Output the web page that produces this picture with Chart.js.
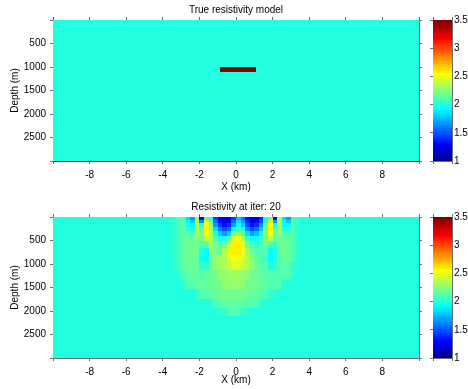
<!DOCTYPE html>
<html>
<head>
<meta charset="utf-8">
<script src="https://cdn.jsdelivr.net/npm/chart.js@4.4.1/dist/chart.umd.min.js"></script>
<style>
  body { margin: 0; background: #fff; overflow: hidden; }
  canvas { position: absolute; }
</style>
</head>
<body>
<canvas id="modelChart" width="430" height="195" style="left:0;top:0"></canvas>
<canvas id="modelBar" width="50" height="195" style="left:420px;top:0"></canvas>
<canvas id="iterChart" width="430" height="195" style="left:0;top:197px"></canvas>
<canvas id="iterBar" width="50" height="195" style="left:420px;top:197px"></canvas>
<script>
var FONT = '"Liberation Sans", Arial, sans-serif';
var AXIS = '#6e6e6e';

// axis ranges
var xLimits = [-10, 10];
var depthLimits = [0, 3000];
var colorLimits = [1, 3.5];

// true model: background with one resistive block
var modelXEdges = [-10, -0.9, 1.1, 10];
var modelDepthEdges = [0, 1000, 1100, 3000];
var modelValues = [
  [2, 2, 2],
  [2, 3.5, 2],
  [2, 2, 2]
];

// inversion result at iter 20 (values outside the grid = background)
var iterBackground = 2.0;
var iterXEdges = [-3.5, -3.25, -3, -2.75, -2.5, -2.25, -2, -1.75, -1.5, -1.25, -1, -0.75, -0.5, -0.25, 0,
                  0.25, 0.5, 0.75, 1, 1.25, 1.5, 1.75, 2, 2.25, 2.5, 2.75, 3, 3.25, 3.5, 3.75];
var iterDepthEdges = [0, 60, 130, 210, 300, 400, 520, 650, 800, 960, 1130, 1320, 1530, 1740, 1930, 2100];
var iterValues = [
  [2.05, 2.1, 2.1, 1.85, 1.7, 2.35, 1.2, 2.1, 2.05, 1.45, 1.3, 1.2, 1.25, 1.45, 1.75, 1.6, 1.35, 1.2, 1.2, 1.4, 1.9, 2.2, 1.2, 2.35, 1.85, 1.7, 2.1, 2.05, 2.0],
  [2.05, 2.1, 2.15, 1.9, 1.8, 2.4, 1.65, 2.45, 2.15, 1.55, 1.35, 1.25, 1.3, 1.55, 1.85, 1.7, 1.4, 1.25, 1.3, 1.5, 2.0, 2.45, 1.7, 2.35, 1.9, 1.8, 2.1, 2.05, 2.0],
  [2.05, 2.1, 2.15, 1.95, 1.9, 2.4, 2.0, 2.55, 2.25, 1.7, 1.45, 1.35, 1.4, 1.7, 1.95, 1.8, 1.5, 1.35, 1.4, 1.65, 2.1, 2.55, 2.0, 2.3, 1.95, 1.9, 2.1, 2.05, 2.0],
  [2.05, 2.1, 2.15, 2.05, 2.0, 2.35, 2.15, 2.58, 2.3, 1.85, 1.6, 1.5, 1.55, 1.9, 2.1, 1.95, 1.65, 1.5, 1.55, 1.8, 2.2, 2.58, 2.15, 2.25, 2.05, 2.0, 2.1, 2.05, 2.0],
  [2.05, 2.1, 2.15, 2.1, 2.1, 2.3, 2.2, 2.55, 2.35, 2.0, 1.8, 1.7, 1.8, 2.15, 2.3, 2.15, 1.85, 1.7, 1.75, 1.95, 2.25, 2.55, 2.2, 2.25, 2.1, 2.1, 2.1, 2.05, 2.0],
  [2.05, 2.1, 2.15, 2.15, 2.15, 2.25, 2.2, 2.4, 2.35, 2.1, 2.0, 1.95, 2.15, 2.45, 2.5, 2.35, 2.05, 1.9, 1.95, 2.05, 2.25, 2.4, 2.15, 2.2, 2.15, 2.15, 2.1, 2.05, 2.0],
  [2.05, 2.1, 2.15, 2.2, 2.2, 2.2, 2.1, 2.15, 2.3, 2.2, 2.1, 2.2, 2.4, 2.58, 2.58, 2.45, 2.2, 2.1, 2.05, 2.1, 2.2, 2.1, 2.05, 2.2, 2.2, 2.15, 2.1, 2.05, 2.0],
  [2.05, 2.1, 2.15, 2.2, 2.2, 2.2, 2.0, 1.9, 2.25, 2.2, 2.2, 2.35, 2.5, 2.58, 2.58, 2.5, 2.3, 2.2, 2.1, 2.1, 2.1, 1.9, 2.0, 2.15, 2.2, 2.15, 2.1, 2.05, 2.0],
  [2.05, 2.1, 2.15, 2.2, 2.2, 2.15, 1.95, 1.9, 2.2, 2.25, 2.3, 2.35, 2.45, 2.55, 2.5, 2.45, 2.35, 2.25, 2.15, 2.1, 2.05, 1.9, 2.0, 2.1, 2.15, 2.15, 2.1, 2.05, 2.0],
  [2.05, 2.1, 2.15, 2.15, 2.2, 2.15, 2.05, 2.05, 2.2, 2.25, 2.3, 2.35, 2.4, 2.45, 2.45, 2.4, 2.35, 2.25, 2.2, 2.1, 2.1, 2.0, 2.05, 2.1, 2.15, 2.1, 2.05, 2.05, 2.0],
  [2.0, 2.05, 2.1, 2.15, 2.15, 2.15, 2.1, 2.15, 2.2, 2.2, 2.25, 2.25, 2.3, 2.3, 2.3, 2.25, 2.25, 2.2, 2.2, 2.15, 2.1, 2.1, 2.1, 2.1, 2.1, 2.1, 2.05, 2.0, 2.0],
  [2.0, 2.0, 2.05, 2.1, 2.1, 2.15, 2.15, 2.15, 2.2, 2.2, 2.2, 2.25, 2.25, 2.25, 2.25, 2.25, 2.2, 2.2, 2.2, 2.15, 2.15, 2.1, 2.1, 2.1, 2.05, 2.0, 2.0, 2.0, 2.0],
  [2.0, 2.0, 2.0, 2.0, 2.0, 2.05, 2.1, 2.1, 2.15, 2.15, 2.2, 2.2, 2.2, 2.2, 2.2, 2.2, 2.2, 2.15, 2.15, 2.1, 2.1, 2.05, 2.05, 2.0, 2.0, 2.0, 2.0, 2.0, 2.0],
  [2.0, 2.0, 2.0, 2.0, 2.0, 2.0, 2.0, 2.0, 2.05, 2.1, 2.1, 2.15, 2.15, 2.15, 2.15, 2.15, 2.1, 2.1, 2.1, 2.05, 2.0, 2.0, 2.0, 2.0, 2.0, 2.0, 2.0, 2.0, 2.0],
  [2.0, 2.0, 2.0, 2.0, 2.0, 2.0, 2.0, 2.0, 2.0, 2.0, 2.05, 2.05, 2.1, 2.1, 2.1, 2.05, 2.05, 2.0, 2.0, 2.0, 2.0, 2.0, 2.0, 2.0, 2.0, 2.0, 2.0, 2.0, 2.0]
];

// matlab style jet(64)
function jet(v) {
  var k = Math.floor((v - colorLimits[0]) / (colorLimits[1] - colorLimits[0]) * 64) + 1;
  k = Math.max(1, Math.min(64, k));
  var r = k <= 24 ? 0 : k <= 40 ? (k - 24) / 16 : k <= 56 ? 1 : 1 - (k - 56) / 16;
  var g = k <= 8 ? 0 : k <= 24 ? (k - 8) / 16 : k <= 40 ? 1 : k <= 56 ? 1 - (k - 40) / 16 : 0;
  var b = k <= 8 ? (k + 8) / 16 : k <= 24 ? 1 : k <= 40 ? 1 - (k - 24) / 16 : 0;
  return 'rgb(' + Math.round(r * 255) + ',' + Math.round(g * 255) + ',' + Math.round(b * 255) + ')';
}

function gridCells(xEdges, yEdges, values) {
  var cells = [];
  for (var r = 0; r < values.length; r++) {
    for (var c = 0; c < values[r].length; c++) {
      cells.push({
        x: (xEdges[c] + xEdges[c + 1]) / 2, y: (yEdges[r] + yEdges[r + 1]) / 2,
        x0: xEdges[c], x1: xEdges[c + 1], y0: yEdges[r], y1: yEdges[r + 1], v: values[r][c]
      });
    }
  }
  return cells;
}

// fills each cell through the chart scales
var cellPlugin = {
  id: 'cells',
  beforeDatasetsDraw: function(chart) {
    var ctx = chart.ctx, a = chart.chartArea;
    var xs = chart.scales.x, ys = chart.scales.y;
    ctx.save();
    ctx.beginPath();
    ctx.rect(a.left, a.top, a.right - a.left, a.bottom - a.top);
    ctx.clip();
    chart.data.datasets[0].data.forEach(function(c) {
      var l = Math.round(xs.getPixelForValue(c.x0)), r = Math.round(xs.getPixelForValue(c.x1));
      var t = Math.round(ys.getPixelForValue(c.y0)), b = Math.round(ys.getPixelForValue(c.y1));
      ctx.fillStyle = jet(c.v);
      ctx.fillRect(Math.min(l, r), Math.min(t, b), Math.abs(r - l), Math.abs(b - t));
    });
    ctx.restore();
  }
};

var tickFont = { family: FONT, size: 10 };

function edgeAxis(pos, lim, step, size, rev) {
  return {
    type: 'linear', position: pos, min: lim[0], max: lim[1], reverse: !!rev, z: 1,
    ticks: { display: false, stepSize: step },
    grid: { drawOnChartArea: false, tickLength: 3, color: AXIS },
    border: { color: AXIS },
    afterFit: function(s) { if (s.isHorizontal()) s.height = size; else s.width = size; }
  };
}

function heatOptions(title, dotted, xTitleGap) {
  return {
    responsive: false, animation: false, events: [],
    layout: { padding: 0 },
    plugins: {
      legend: { display: false },
      tooltip: { enabled: false },
      title: {
        display: true, text: title, color: '#000', fullSize: false,
        font: { family: FONT, size: 10, weight: 'normal', lineHeight: 1.2 },
        padding: { top: 4, bottom: 1 }
      }
    },
    scales: {
      x: {
        type: 'linear', position: 'bottom', min: xLimits[0], max: xLimits[1], z: 1,
        ticks: {
          stepSize: 2, color: '#000', font: tickFont, padding: 5, maxRotation: 0,
          callback: function(v) { return Math.abs(v) === 10 ? '' : v; }
        },
        grid: { drawOnChartArea: false, tickLength: 3, color: AXIS },
        border: dotted ? { color: '#333', dash: [1, 1] } : { color: AXIS },
        title: { display: true, text: 'X (km)', color: '#000', font: tickFont, padding: { top: 0, bottom: xTitleGap } },
        afterFit: function(s) { s.height = 34; }
      },
      x2: edgeAxis('top', xLimits, 2, 3),
      y: {
        type: 'linear', position: 'left', reverse: true, min: depthLimits[0], max: depthLimits[1], z: 1,
        ticks: {
          stepSize: 500, color: '#000', font: tickFont, padding: 4,
          callback: function(v) { return (v === 0 || v === 3000) ? '' : v; }
        },
        grid: { drawOnChartArea: false, tickLength: 3, color: AXIS },
        border: { color: AXIS },
        title: { display: true, text: 'Depth (m)', color: '#000', font: tickFont, padding: { top: 9, bottom: 0 } },
        afterFit: function(s) { s.width = 53; }
      },
      y2: edgeAxis('right', depthLimits, 500, 11, true)
    }
  };
}

function barOptions() {
  return {
    responsive: false, animation: false, events: [],
    layout: { padding: { left: 13, top: 20, bottom: 34, right: 0 } },
    plugins: { legend: { display: false }, tooltip: { enabled: false } },
    scales: {
      x: edgeAxis('bottom', [0, 1], 1, 0),
      x2: edgeAxis('top', [0, 1], 1, 0),
      y: {
        type: 'linear', position: 'right', min: colorLimits[0], max: colorLimits[1], z: 1,
        ticks: {
          stepSize: 0.5, color: '#000', font: tickFont, padding: 2,
          callback: function(v) { return String(v); }
        },
        grid: { drawOnChartArea: false, drawTicks: false, color: AXIS },
        border: { color: AXIS },
        afterFit: function(s) { s.width = 18; }
      },
      y2: edgeAxis('left', colorLimits, 0.5, 0)
    }
  };
}

// colour bar cells, one per colormap level
var barCells = [];
for (var k = 0; k < 64; k++) {
  var lo = colorLimits[0] + k * (colorLimits[1] - colorLimits[0]) / 64;
  var hi = colorLimits[0] + (k + 1) * (colorLimits[1] - colorLimits[0]) / 64;
  barCells.push({ x: 0.5, y: (lo + hi) / 2, x0: 0, x1: 1, y0: lo, y1: hi, v: (lo + hi) / 2 });
}

function heatDataset(cells) {
  return { datasets: [{ data: cells, pointRadius: 0, showLine: false }] };
}

var modelCells = gridCells(modelXEdges, modelDepthEdges, modelValues);
var iterCells = [{ x: 0, y: 1500, x0: xLimits[0], x1: xLimits[1], y0: depthLimits[0], y1: depthLimits[1], v: iterBackground }]
  .concat(gridCells(iterXEdges, iterDepthEdges, iterValues));

new Chart(document.getElementById('modelChart'), {
  type: 'scatter', data: heatDataset(modelCells),
  options: heatOptions('True resistivity model', true, 2), plugins: [cellPlugin]
});
new Chart(document.getElementById('iterChart'), {
  type: 'scatter', data: heatDataset(iterCells),
  options: heatOptions('Resistivity at iter: 20', false, 6), plugins: [cellPlugin]
});
new Chart(document.getElementById('modelBar'), {
  type: 'scatter', data: heatDataset(barCells), options: barOptions(), plugins: [cellPlugin]
});
new Chart(document.getElementById('iterBar'), {
  type: 'scatter', data: heatDataset(barCells), options: barOptions(), plugins: [cellPlugin]
});
</script>
</body>
</html>
